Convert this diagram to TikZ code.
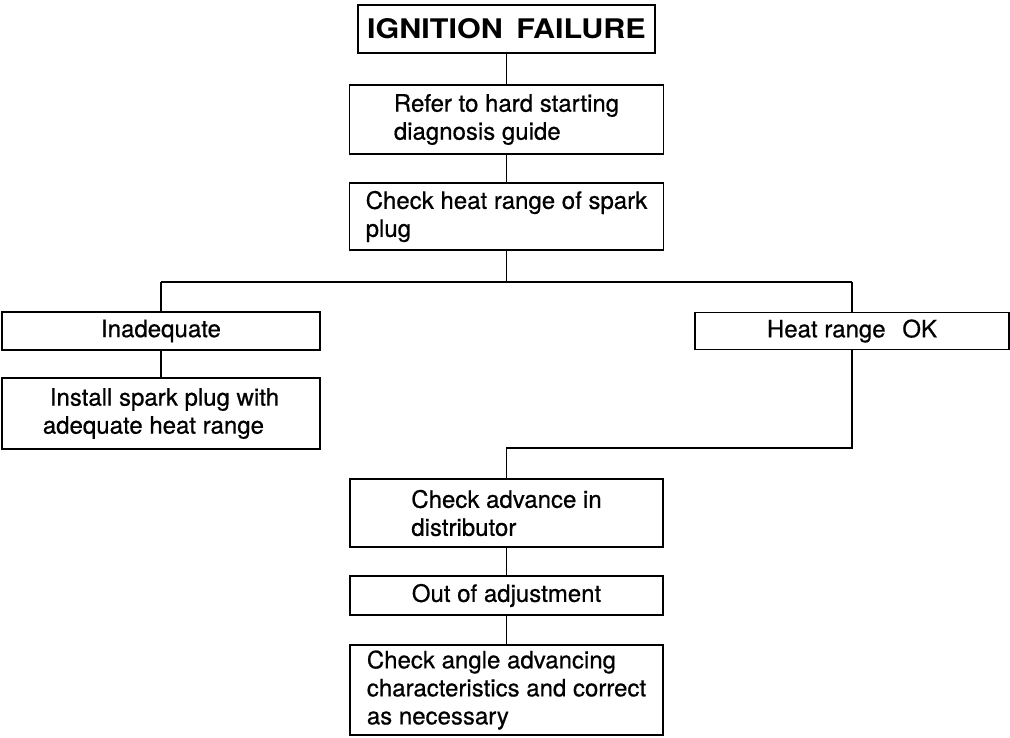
\documentclass[tikz,border=0pt]{standalone}
\usepackage{fontspec}
\setmainfont{TeX Gyre Heros}[FakeBold=0.6]
\newfontfamily\titlefont[FakeStretch=1.13]{TeX Gyre Heros}
\begin{document}
\begin{tikzpicture}[x=1pt,y=-1pt,
  box/.style={draw, line width=1.4pt, rectangle, inner sep=0pt, align=left,
    font=\fontsize{24}{28}\selectfont},
  cbox/.style={box, align=center},
  titlebox/.style={draw, line width=2.6pt, rectangle, inner sep=0pt,
    font=\titlefont\bfseries\fontsize{27}{30}\selectfont},
  link/.style={line width=1.3pt}]
\useasboundingbox (0,0) rectangle (1010,737);
\node[titlebox, minimum width=297pt, minimum height=48pt] (ign) at (506.5,29) {IGNITION\hspace{0.5em}FAILURE};
\node[box, minimum width=314pt, minimum height=69pt] (refer) at (506.5,119.5) {Refer to hard starting\\diagnosis guide};
\node[box, minimum width=314pt, minimum height=67pt] (heat) at (506.5,216.5) {Check heat range of spark\\plug};
\node[cbox, minimum width=318pt, minimum height=38pt] (inad) at (161,331) {Inadequate};
\node[cbox, minimum width=314pt, minimum height=37pt] (ok) at (852,331) {Heat range\hspace{0.7em}OK};
\node[box, minimum width=318pt, minimum height=71pt] (inst) at (161,413.5) {\hspace*{7pt}Install spark plug with\\adequate heat range};
\node[box, minimum width=313pt, minimum height=68pt] (adv) at (506.5,513) {Check advance in\\distributor};
\node[cbox, minimum width=313pt, minimum height=39pt] (outadj) at (506.5,595.5) {Out of adjustment};
\node[box, minimum width=313pt, minimum height=90pt] (angle) at (506.5,690) {Check angle advancing\\characteristics and correct\\as necessary};
\coordinate (sp) at (506.5,282);
\coordinate (jl) at (161,282);
\coordinate (jr) at (852,282);
\coordinate (jb) at (852,448);
\draw[link] (ign.south) -- (refer.north);
\draw[link] (refer.south) -- (heat.north);
\draw[link] (heat.south) -- (sp);
\draw[link] (jl) -- (jr);
\draw[link] (jl) -- (inad.north);
\draw[link] (jr) -- (ok.north);
\draw[link] (inad.south) -- (inst.north);
\draw[link] (ok.south) -- (jb) -| (adv.north);
\draw[link] (adv.south) -- (outadj.north);
\draw[link] (outadj.south) -- (angle.north);
\end{tikzpicture}
\end{document}
